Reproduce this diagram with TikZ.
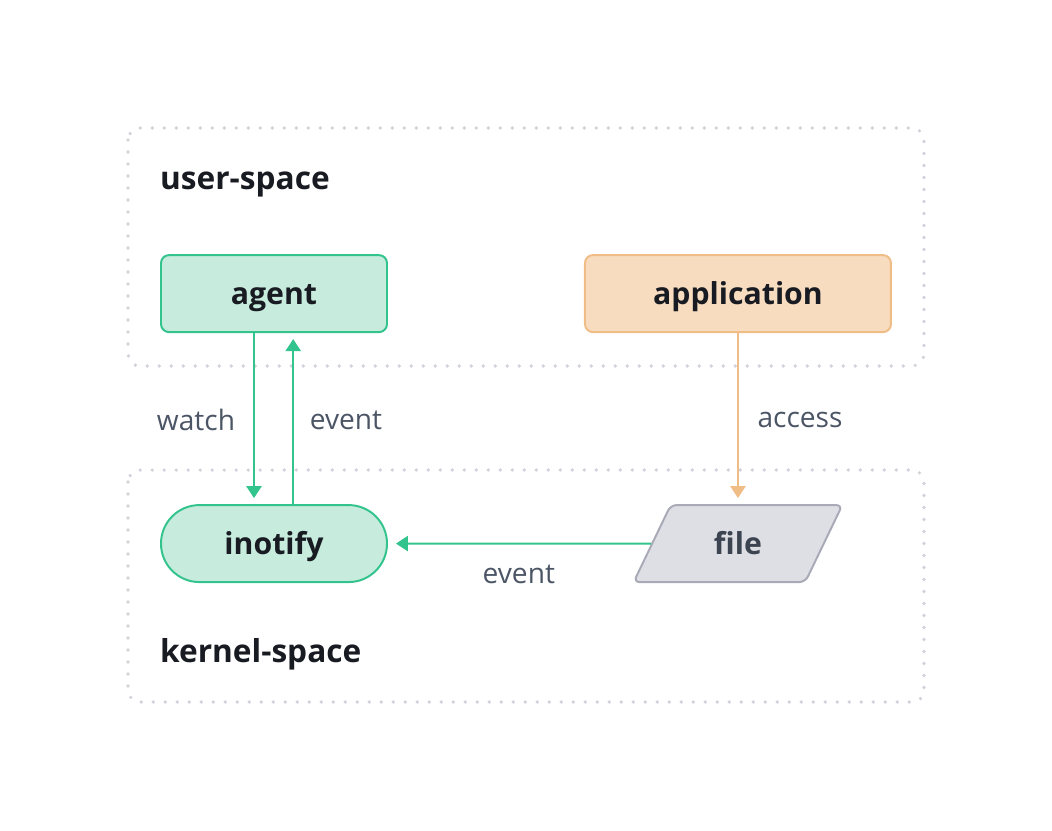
\documentclass[tikz,border=0pt]{standalone}
\usepackage{fontspec}
\setmainfont{Open Sans}
\usepackage{tikz}
\usetikzlibrary{positioning, shapes.geometric, arrows.meta}
\definecolor{greenline}{HTML}{33C48D}
\definecolor{greenfill}{HTML}{C7EBDD}
\definecolor{orangeline}{HTML}{F0BD87}
\definecolor{orangefill}{HTML}{F8DCBF}
\definecolor{greyline}{HTML}{A9A9B8}
\definecolor{greyfill}{HTML}{DEDFE4}
\definecolor{dotgrey}{HTML}{D0D3DA}
\definecolor{labeltext}{HTML}{4B5565}
\definecolor{darktext}{HTML}{181B21}

\begin{document}
\begin{tikzpicture}[node distance={4.275cm}, >={Triangle[length=0.3cm, width=0.38cm]},
    box/.style={draw, line width=1.4pt, minimum width=5.65cm, minimum height=1.925cm, text height=21pt, text depth=5pt, text=darktext, font=\fontsize{21.5}{25}\selectfont\bfseries},
    lbl/.style={text=labeltext, font=\fontsize{20}{24}\selectfont},
    title/.style={anchor=west, text=darktext, font=\fontsize{22.5}{27}\selectfont\bfseries},
    dotbox/.style={dotgrey, line width=2.6pt, line cap=round, dash pattern=on 0pt off 0.3cm, rounded corners=0.3cm}]
        \useasboundingbox (0,0) rectangle (26.3,-20.75);

        \draw[dotbox] (3.2,-3.2) rectangle (23.1,-9.15);
        \draw[dotbox] (3.2,-11.75) rectangle (23.1,-17.55);
        \node[title] (t1) at (3.88,-4.62) {user-space};
        \node[title] (t2) at (3.88,-16.35) {kernel-space};

        \node[box, draw=greenline, fill=greenfill, rounded corners=0.2cm] (1) at (6.85,-7.34) {agent};
        \node[box, draw=orangeline, fill=orangefill, rounded corners=0.2cm, minimum width=7.65cm] (3) [right=4.9cm of 1] {application};
        \node[box, draw=greenline, fill=greenfill, rounded corners=0.96cm] (2) [below=of 1] {inotify};
        \node[box, draw=greyline, fill=greyfill, text=labeltext!80!black, trapezium, trapezium left angle=71, trapezium right angle=109, trapezium stretches, rounded corners=0.15cm, minimum width=5.25cm] (4) [below=of 3] {file};

        \draw[greenline, line width=1.4pt, ->, shorten >=0.15cm] ([xshift=-0.5cm]1.south) to ([xshift=-0.5cm]2.north); \node[lbl] (5) at (4.9,-10.5) {watch};
        \draw[greenline, line width=1.4pt, ->, shorten >=0.15cm] ([xshift=0.48cm]2.north) to ([xshift=0.48cm]1.south); \node[lbl] (6) at (8.65,-10.5) {event};
        \draw[orangeline, line width=1.4pt, ->, shorten >=0.15cm] (3.south) to (4.north); \node[lbl] (7) at (20.0,-10.5) {access};
        \draw[greenline, line width=1.4pt, ->, shorten >=0.2cm] (4) to (2); \node[lbl] (8) at (12.97,-14.35) {event};
    \end{tikzpicture}
\end{document}
